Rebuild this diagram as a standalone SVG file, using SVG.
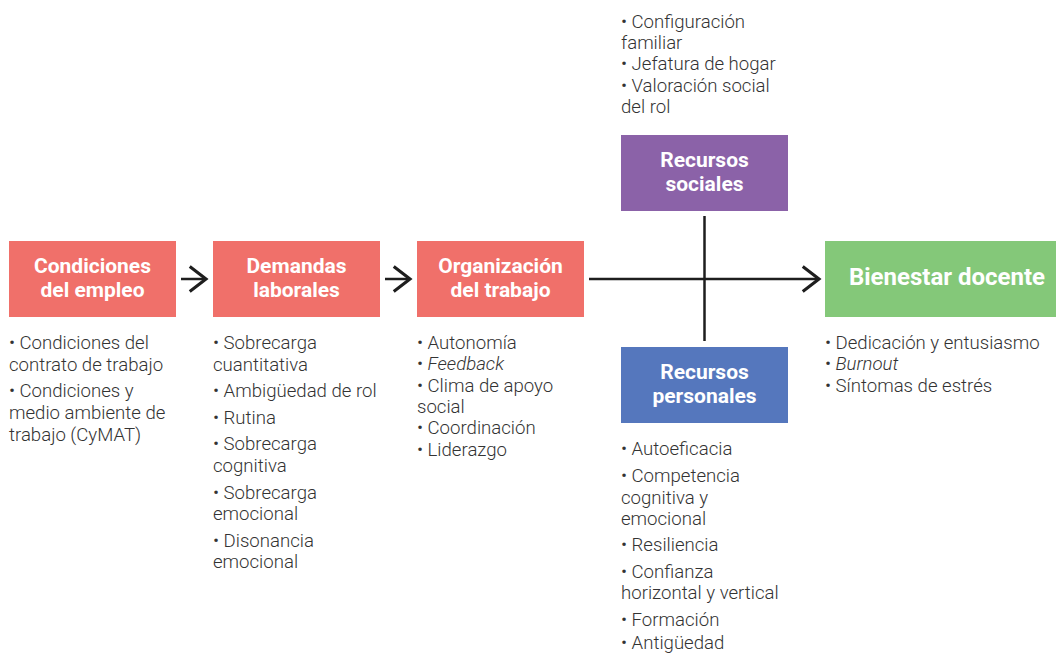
<svg xmlns="http://www.w3.org/2000/svg" width="1056" height="654" viewBox="0 0 1056 654">
  <style>
    .title { font-family: Roboto, "Liberation Sans", sans-serif; font-weight: 700; font-size: 21px; fill: #ffffff; text-anchor: middle; }
    .big { font-size: 24px; }
    .list { font-family: Roboto, "Liberation Sans", sans-serif; font-weight: 300; font-size: 18.6px; fill: #333333; }
    .red { fill: #F0706A; }
    .purple { fill: #8B62A8; }
    .blue { fill: #5577BD; }
    .green { fill: #84C879; }
    .link { stroke: #1e1e1e; stroke-width: 2.5; fill: none; }
  </style>
  <defs>
    <marker id="head" markerUnits="userSpaceOnUse" markerWidth="30" markerHeight="30" viewBox="-16 -12 20 24" refX="0" refY="0" orient="auto">
      <path d="M-13,-10 L0,0 L-13,10" fill="none" stroke="#1e1e1e" stroke-width="2.5" stroke-linejoin="miter"/>
    </marker>
  </defs>

  <!-- connectors -->
  <g id="connectors">
    <line class="link" x1="181" y1="279" x2="206" y2="279" marker-end="url(#head)"/>
    <line class="link" x1="385" y1="279" x2="410" y2="279" marker-end="url(#head)"/>
    <line class="link" x1="589" y1="279" x2="819" y2="279" marker-end="url(#head)"/>
    <line class="link" x1="704.5" y1="216" x2="704.5" y2="341"/>
  </g>

  <!-- Condiciones del empleo -->
  <g id="condiciones">
    <rect class="red" x="9" y="241" width="167" height="76"/>
    <text class="title" x="92.5" y="273">Condiciones</text>
    <text class="title" x="92.5" y="297">del empleo</text>
    <text class="list" x="9" y="349">• Condiciones del</text>
    <text class="list" x="9" y="371">contrato de trabajo</text>
    <text class="list" x="9" y="397">• Condiciones y</text>
    <text class="list" x="9" y="419">medio ambiente de</text>
    <text class="list" x="9" y="441">trabajo (CyMAT)</text>
  </g>

  <!-- Demandas laborales -->
  <g id="demandas">
    <rect class="red" x="213" y="241" width="167" height="76"/>
    <text class="title" x="296.5" y="273">Demandas</text>
    <text class="title" x="296.5" y="297">laborales</text>
    <text class="list" x="213" y="349">• Sobrecarga</text>
    <text class="list" x="213" y="371">cuantitativa</text>
    <text class="list" x="213" y="397">• Ambigüedad de rol</text>
    <text class="list" x="213" y="424">• Rutina</text>
    <text class="list" x="213" y="450">• Sobrecarga</text>
    <text class="list" x="213" y="472">cognitiva</text>
    <text class="list" x="213" y="499">• Sobrecarga</text>
    <text class="list" x="213" y="520">emocional</text>
    <text class="list" x="213" y="547">• Disonancia</text>
    <text class="list" x="213" y="568">emocional</text>
  </g>

  <!-- Organización del trabajo -->
  <g id="organizacion">
    <rect class="red" x="417" y="241" width="167" height="76"/>
    <text class="title" x="500.5" y="273">Organización</text>
    <text class="title" x="500.5" y="297">del trabajo</text>
    <text class="list" x="417" y="349">• Autonomía</text>
    <text class="list" x="417" y="370">• <tspan font-style="italic">Feedback</tspan></text>
    <text class="list" x="417" y="392">• Clima de apoyo</text>
    <text class="list" x="417" y="413">social</text>
    <text class="list" x="417" y="434">• Coordinación</text>
    <text class="list" x="417" y="456">• Liderazgo</text>
  </g>

  <!-- Recursos sociales -->
  <g id="recursos-sociales">
    <rect class="purple" x="621" y="135" width="167" height="76"/>
    <text class="title" x="704.5" y="167">Recursos</text>
    <text class="title" x="704.5" y="191">sociales</text>
    <text class="list" x="621" y="28">• Configuración</text>
    <text class="list" x="621" y="49">familiar</text>
    <text class="list" x="621" y="70">• Jefatura de hogar</text>
    <text class="list" x="621" y="92">• Valoración social</text>
    <text class="list" x="621" y="113">del rol</text>
  </g>

  <!-- Recursos personales -->
  <g id="recursos-personales">
    <rect class="blue" x="621" y="347" width="167" height="76"/>
    <text class="title" x="704.5" y="379">Recursos</text>
    <text class="title" x="704.5" y="403">personales</text>
    <text class="list" x="621" y="455">• Autoeficacia</text>
    <text class="list" x="621" y="482">• Competencia</text>
    <text class="list" x="621" y="504">cognitiva y</text>
    <text class="list" x="621" y="525">emocional</text>
    <text class="list" x="621" y="551">• Resiliencia</text>
    <text class="list" x="621" y="578">• Confianza</text>
    <text class="list" x="621" y="599">horizontal y vertical</text>
    <text class="list" x="621" y="626">• Formación</text>
    <text class="list" x="621" y="649">• Antigüedad</text>
  </g>

  <!-- Bienestar docente -->
  <g id="bienestar">
    <rect class="green" x="825" y="241" width="231" height="76"/>
    <text class="title big" x="947" y="285">Bienestar docente</text>
    <text class="list" x="825" y="349">• Dedicación y entusiasmo</text>
    <text class="list" x="825" y="370">• <tspan font-style="italic">Burnout</tspan></text>
    <text class="list" x="825" y="392">• Síntomas de estrés</text>
  </g>
</svg>
